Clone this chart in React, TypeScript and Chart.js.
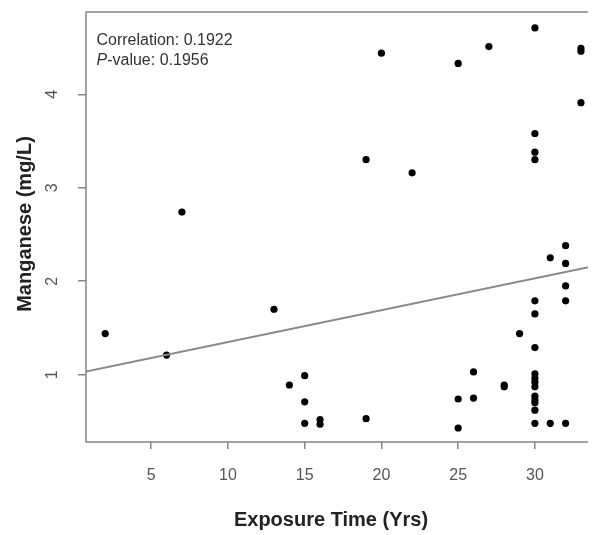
import React, { useEffect, useRef } from "react";
import { Chart, registerables } from "chart.js";

Chart.register(...registerables);

const exposureYears = [
  2, 6, 7, 13, 14, 15, 15, 15, 16, 16, 19, 19, 20, 22, 25, 25, 25, 26, 26, 27, 28, 28, 29,
  30, 30, 30, 30, 30, 30, 30, 30, 30, 30, 30, 30, 30, 30, 30, 30,
  31, 31, 32, 32, 32, 32, 32, 33, 33, 33,
];
const manganese = [
  1.44, 1.21, 2.74, 1.7, 0.89, 0.99, 0.71, 0.48, 0.52, 0.47, 3.3, 0.53, 4.44, 3.16, 4.33, 0.74, 0.43, 1.03, 0.75, 4.51, 0.89, 0.87, 1.44,
  4.71, 3.58, 3.38, 3.3, 1.79, 1.65, 1.29, 1.01, 0.96, 0.92, 0.87, 0.77, 0.73, 0.7, 0.62, 0.48,
  2.25, 0.48, 2.38, 2.19, 1.95, 1.79, 0.48, 4.49, 4.46, 3.91,
];
const xTicks = [5, 10, 15, 20, 25, 30];
const yTicks = [1, 2, 3, 4];
const xRange = [0.75, 33.72];
const yRange = [0.28, 4.88];
const fitIntercept = 1.009;
const fitSlope = 0.0341;
const correlationText = "Correlation: 0.1922";
const pValueLabel = "P";
const pValueText = "-value: 0.1956";
const xTitle = "Exposure Time (Yrs)";
const yTitle = "Manganese (mg/L)";

const FONT = "'Liberation Sans', Arial, sans-serif";

const decorPlugin = {
  id: "decor",
  afterDraw(chart: any) {
    const { ctx, chartArea, scales } = chart;
    const ys = scales.y;
    ctx.save();
    // box
    ctx.strokeStyle = "#858585";
    ctx.lineWidth = 1.5;
    ctx.strokeRect(chartArea.left, chartArea.top, chartArea.right - chartArea.left + 20, chartArea.bottom - chartArea.top);

    // y tick labels (rotated, R style)
    ctx.fillStyle = "#555";
    ctx.font = `16px ${FONT}`;
    ctx.textAlign = "center";
    ctx.textBaseline = "middle";
    yTicks.forEach((v) => {
      const py = ys.getPixelForValue(v);
      ctx.save();
      ctx.translate(45, py);
      ctx.rotate(-Math.PI / 2);
      ctx.fillText(String(v), 0, 0);
      ctx.restore();
    });

    // axis titles
    ctx.fillStyle = "#222";
    ctx.font = `bold 20px ${FONT}`;
    ctx.fillText(xTitle, 323, 512);
    ctx.save();
    ctx.translate(17, 216);
    ctx.rotate(-Math.PI / 2);
    ctx.fillText(yTitle, 0, 0);
    ctx.restore();

    // annotation
    ctx.fillStyle = "#333";
    ctx.textAlign = "left";
    ctx.font = `16px ${FONT}`;
    const tx = chartArea.left + 10.5;
    ctx.fillText(correlationText, tx, 33);
    ctx.font = `italic 16px ${FONT}`;
    ctx.fillText(pValueLabel, tx, 53);
    const w = ctx.measureText(pValueLabel).width;
    ctx.font = `16px ${FONT}`;
    ctx.fillText(pValueText, tx + w, 53);
    ctx.restore();
  },
};

export default function App() {
  const ref = useRef<HTMLCanvasElement>(null);
  useEffect(() => {
    if (!ref.current) return;
    const points = exposureYears.map((x, i) => ({ x, y: manganese[i] }));
    const fitLine = xRange.map((x) => ({ x, y: fitIntercept + fitSlope * x }));
    const chart = new Chart(ref.current, {
      type: "scatter",
      data: {
        datasets: [
          {
            type: "line",
            data: fitLine,
            borderColor: "#8a8a8a",
            borderWidth: 2,
            pointRadius: 0,
            fill: false,
          } as any,
          {
            data: points,
            backgroundColor: "#000",
            borderColor: "#000",
            pointRadius: 3.6,
            borderWidth: 0,
          },
        ],
      },
      options: {
        animation: false,
        responsive: false,
        layout: { padding: { top: 3, right: 0, left: 0, bottom: 0 } },
        plugins: { legend: { display: false }, tooltip: { enabled: false } },
        scales: {
          x: {
            type: "linear",
            min: xRange[0],
            max: xRange[1],
            afterBuildTicks: (s: any) => {
              s.ticks = xTicks.map((v) => ({ value: v }));
            },
            afterFit: (s: any) => {
              s.height = 93;
            },
            grid: { drawOnChartArea: false, drawTicks: true, tickLength: 7, color: "#858585", lineWidth: 1.5 },
            border: { display: false },
            ticks: { color: "#555", font: { size: 16, family: FONT }, padding: 17, maxRotation: 0, autoSkip: false },
          },
          y: {
            type: "linear",
            min: yRange[0],
            max: yRange[1],
            afterBuildTicks: (s: any) => {
              s.ticks = yTicks.map((v) => ({ value: v }));
            },
            afterFit: (s: any) => {
              s.width = 78;
            },
            grid: { drawOnChartArea: false, drawTicks: true, tickLength: 8, color: "#858585", lineWidth: 1.5 },
            border: { display: false },
            ticks: { display: false },
          },
        },
      },
      plugins: [decorPlugin],
    });
    return () => chart.destroy();
  }, []);
  return (
    <div style={{ width: 588, height: 527 }}>
      <canvas ref={ref} width={588} height={527} style={{ display: "block" }} />
    </div>
  );
}
